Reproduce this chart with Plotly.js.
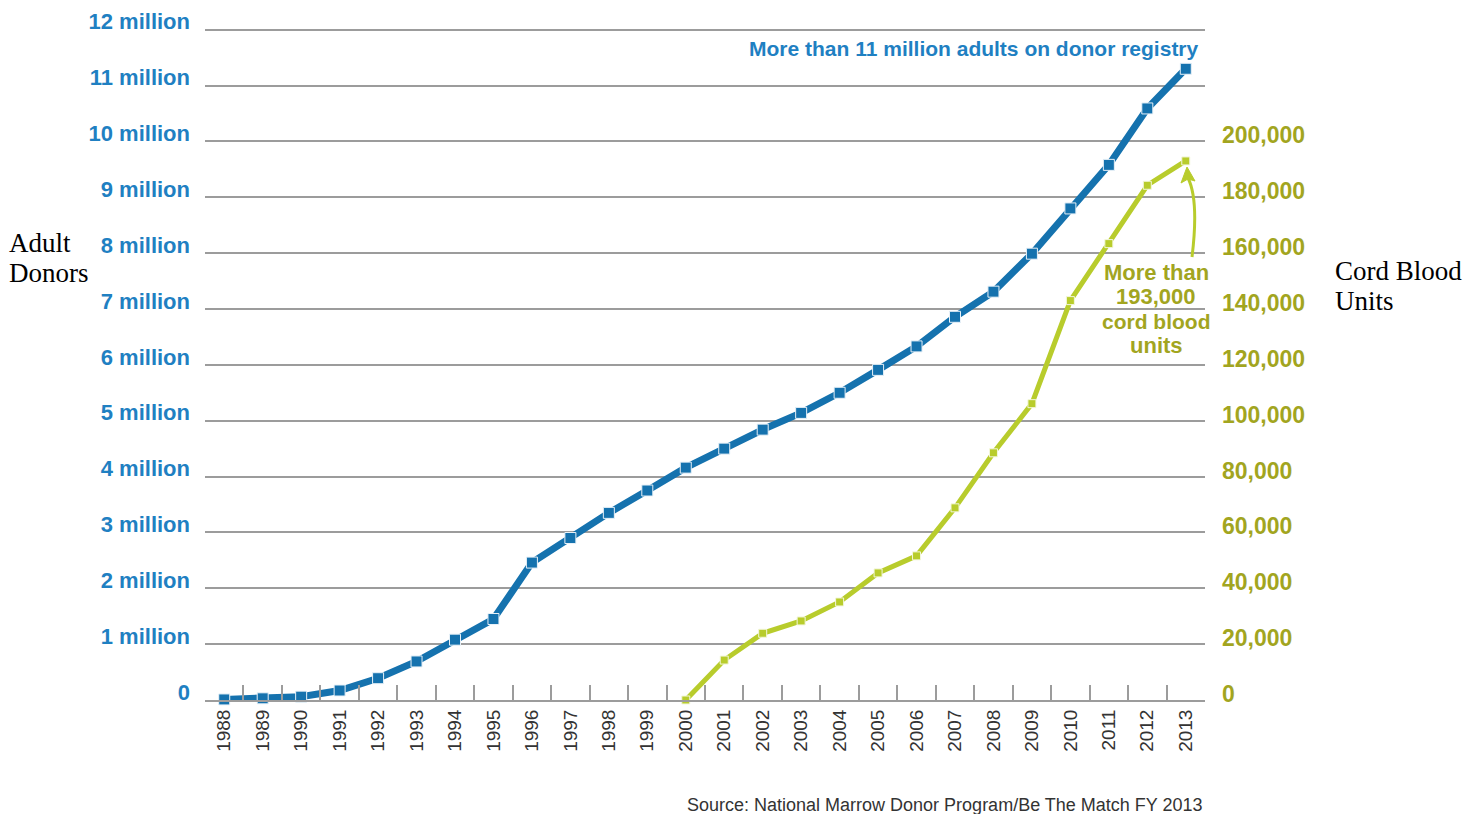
<!DOCTYPE html>
<html>
<head>
<meta charset="utf-8">
<script src="https://cdn.plot.ly/plotly-3.0.1.min.js"></script>
<style>html,body{margin:0;padding:0;background:#fff;}#chart{width:1474px;height:814px;}</style>
</head>
<body>
<div id="chart"></div>
<script>
// ---- data ----
var years = ['1988','1989','1990','1991','1992','1993','1994','1995','1996','1997','1998','1999','2000','2001','2002','2003','2004','2005','2006','2007','2008','2009','2010','2011','2012','2013'];
var adultDonors = [10000, 30000, 60000, 170000, 390000, 690000, 1080000, 1450000, 2460000, 2900000, 3350000, 3750000, 4160000, 4500000, 4840000, 5140000, 5500000, 5910000, 6330000, 6860000, 7310000, 7990000, 8800000, 9580000, 10590000, 11300000];
var cordYears = ['2000','2001','2002','2003','2004','2005','2006','2007','2008','2009','2010','2011','2012','2013'];
var cordUnits = [0, 14300, 23900, 28300, 35100, 45500, 51600, 68800, 88500, 106100, 143000, 163400, 184300, 193000];
var leftTickVals = [0,1e6,2e6,3e6,4e6,5e6,6e6,7e6,8e6,9e6,10e6,11e6,12e6];
var leftTickText = ['0','1 million','2 million','3 million','4 million','5 million','6 million','7 million','8 million','9 million','10 million','11 million','12 million'];
var rightTickVals = [0,20000,40000,60000,80000,100000,120000,140000,160000,180000,200000];
var rightTickText = ['0','20,000','40,000','60,000','80,000','100,000','120,000','140,000','160,000','180,000','200,000'];

var BLUE_LINE = '#1572ae', BLUE_TEXT = '#1f80c2';
var GREEN_LINE = '#b8cc2c', OLIVE_TEXT = '#a2a51f';
var GRID = '#9c9c9c';
var BOLD = 'Liberation Sans, Arial, sans-serif';
var SERIF = 'Liberation Serif, Times New Roman, serif';

var traces = [
  {x: years, y: adultDonors, type: 'scatter', mode: 'lines+markers', name: 'Adult Donors',
   line: {color: BLUE_LINE, width: 7},
   marker: {symbol: 'square', size: 11, color: BLUE_LINE, line: {color: '#e8f1f8', width: 1}},
   yaxis: 'y', cliponaxis: false, hoverinfo: 'x+y'},
  {x: cordYears, y: cordUnits, type: 'scatter', mode: 'lines+markers', name: 'Cord Blood Units',
   line: {color: GREEN_LINE, width: 5},
   marker: {symbol: 'square', size: 8, color: GREEN_LINE, line: {color: '#f3f7dc', width: 1}},
   yaxis: 'y2', cliponaxis: false, hoverinfo: 'x+y'}
];

var TOP = 28, BOT = 700, H = BOT - TOP;
var YMAX_FACTOR = 12.03 / 12;
function px2x(px){ return (px - 205) / 1000; }
function px2y(py){ return (BOT - py) / H; }

var layout = {
  width: 1474, height: 814,
  margin: {l: 205, r: 269, t: TOP, b: 814 - BOT},
  paper_bgcolor: '#ffffff', plot_bgcolor: '#ffffff',
  showlegend: false,
  xaxis: {
    type: 'category', categoryorder: 'array', categoryarray: years,
    range: [-0.5, years.length - 0.5], autorange: false,
    tickson: 'boundaries', ticks: 'inside', ticklen: 15, tickwidth: 2, tickcolor: GRID,
    showline: true, linecolor: GRID, linewidth: 2,
    showgrid: false, zeroline: false,
    tickangle: -90,
    tickfont: {family: 'Liberation Sans, Arial, sans-serif', size: 19, color: '#333333'},
    fixedrange: true
  },
  yaxis: {
    range: [0, 12e6 * YMAX_FACTOR], autorange: false, tickmode: 'array', tickvals: leftTickVals, ticktext: leftTickText,
    showgrid: true, gridcolor: GRID, gridwidth: 2, zeroline: false, showline: false, ticks: '',
    tickfont: {family: BOLD, size: 22, color: BLUE_TEXT, weight: 'bold'},
    ticklabelstandoff: 14, ticklabelshift: -8,
    fixedrange: true
  },
  yaxis2: {
    range: [0, 240000 * YMAX_FACTOR], autorange: false, overlaying: 'y', side: 'right', anchor: 'x',
    tickmode: 'array', tickvals: rightTickVals, ticktext: rightTickText,
    showgrid: false, zeroline: false, showline: false, ticks: '',
    tickfont: {family: BOLD, size: 23, color: OLIVE_TEXT, weight: 'bold'},
    ticklabelstandoff: 16, ticklabelshift: -6,
    fixedrange: true
  },
  shapes: [
    {type: 'rect', xref: 'paper', yref: 'paper', x0: px2x(1093), x1: 1.0, y0: px2y(358), y1: px2y(258),
     fillcolor: '#ffffff', line: {width: 0}, layer: 'between'},
    {type: 'path', xref: 'paper', yref: 'paper',
     path: 'M ' + px2x(1192) + ',' + px2y(257) + ' Q ' + px2x(1199) + ',' + px2y(200) + ' ' + px2x(1188) + ',' + px2y(178),
     line: {color: GREEN_LINE, width: 3}},
    {type: 'path', xref: 'paper', yref: 'paper',
     path: 'M ' + px2x(1187) + ',' + px2y(167) + ' L ' + px2x(1181) + ',' + px2y(183) + ' L ' + px2x(1188) + ',' + px2y(179) + ' L ' + px2x(1195) + ',' + px2y(181) + ' Z',
     fillcolor: GREEN_LINE, line: {color: GREEN_LINE, width: 1}}
  ],
  annotations: [
    {xref: 'paper', yref: 'paper', x: px2x(1201), y: px2y(48), xanchor: 'right', yanchor: 'middle',
     text: 'More than 11 million adults on donor registry', showarrow: false,
     font: {family: BOLD, size: 21, color: BLUE_TEXT, weight: 'bold'}},
    {xref: 'paper', yref: 'paper', x: px2x(1156), y: px2y(272), xanchor: 'center', yanchor: 'middle',
     text: 'More than', showarrow: false, font: {family: BOLD, size: 22, color: OLIVE_TEXT, weight: 'bold'}},
    {xref: 'paper', yref: 'paper', x: px2x(1156), y: px2y(296), xanchor: 'center', yanchor: 'middle',
     text: '193,000', showarrow: false, font: {family: BOLD, size: 22, color: OLIVE_TEXT, weight: 'bold'}},
    {xref: 'paper', yref: 'paper', x: px2x(1156), y: px2y(321), xanchor: 'center', yanchor: 'middle',
     text: 'cord blood', showarrow: false, font: {family: BOLD, size: 21, color: OLIVE_TEXT, weight: 'bold'}},
    {xref: 'paper', yref: 'paper', x: px2x(1156), y: px2y(345), xanchor: 'center', yanchor: 'middle',
     text: 'units', showarrow: false, font: {family: BOLD, size: 22, color: OLIVE_TEXT, weight: 'bold'}},
    {xref: 'paper', yref: 'paper', x: px2x(7), y: px2y(243), xanchor: 'left', yanchor: 'middle',
     text: 'Adult', showarrow: false, font: {family: SERIF, size: 27, color: '#000000'}},
    {xref: 'paper', yref: 'paper', x: px2x(7), y: px2y(273), xanchor: 'left', yanchor: 'middle',
     text: 'Donors', showarrow: false, font: {family: SERIF, size: 27, color: '#000000'}},
    {xref: 'paper', yref: 'paper', x: px2x(1333), y: px2y(271), xanchor: 'left', yanchor: 'middle',
     text: 'Cord Blood', showarrow: false, font: {family: SERIF, size: 27, color: '#000000'}},
    {xref: 'paper', yref: 'paper', x: px2x(1333), y: px2y(301), xanchor: 'left', yanchor: 'middle',
     text: 'Units', showarrow: false, font: {family: SERIF, size: 27, color: '#000000'}},
    {xref: 'paper', yref: 'paper', x: 1.0, y: px2y(805), xanchor: 'right', yanchor: 'middle',
     text: 'Source: National Marrow Donor Program/Be The Match FY 2013', showarrow: false,
     font: {family: 'Liberation Sans, Arial, sans-serif', size: 18, color: '#333333'}}
  ]
};

Plotly.newPlot('chart', traces, layout, {displayModeBar: false, staticPlot: true});
</script>
</body>
</html>
